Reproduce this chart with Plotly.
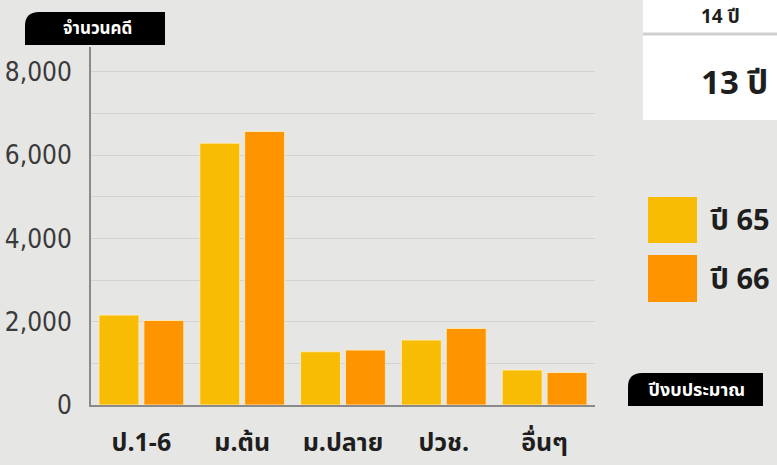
import plotly.graph_objects as go

categories = ["ป.1-6", "ม.ต้น", "ม.ปลาย", "ปวช.", "อื่นๆ"]
series_names = ["ปี 65", "ปี 66"]
values_65 = [2160, 6290, 1280, 1560, 840]
values_66 = [2030, 6570, 1320, 1840, 780]
y_ticks = [0, 2000, 4000, 6000, 8000]
y_tick_labels = ["0", "2,000", "4,000", "6,000", "8,000"]
colors = ["#F8BC04", "#FE9400"]

W, H = 777, 465
L, R, T, B = 91, 182, 47, 60
PW, PH = W - L - R, H - T - B

def px(x):
    return (x - L) / PW

def py(y):
    return (H - B - y) / PH

thai = "Noto Sans Thai, Loma, Garuda, Tlwg Typo, Noto Sans, sans-serif"
narrow = "DejaVu Sans Condensed, Liberation Sans Narrow, Roboto Condensed, Roboto, sans-serif"

fig = go.Figure()
for name, vals, col in zip(series_names, [values_65, values_66], colors):
    fig.add_trace(go.Bar(
        x=categories, y=vals, name=name,
        marker=dict(color=col, line=dict(color="rgba(255,236,190,0.9)", width=1)),
        showlegend=False,
    ))

shapes = []
annotations = []

def rounded_box(x0, y0, x1, y1, r, color):
    path = (f"M {px(x0)},{py(y1)} L {px(x0)},{py(y0 + r)} "
            f"Q {px(x0)},{py(y0)} {px(x0 + r)},{py(y0)} "
            f"L {px(x1)},{py(y0)} L {px(x1)},{py(y1)} Z")
    return dict(type="path", xref="paper", yref="paper", path=path,
                fillcolor=color, line=dict(width=0), layer="above")

def label(x, y, text, size, color, xanchor="center", family=thai):
    return dict(x=px(x), y=py(y), xref="paper", yref="paper", text=text,
                showarrow=False, xanchor=xanchor, yanchor="middle",
                font=dict(family=family, size=size, color=color))

# y-axis title box
shapes.append(rounded_box(25, 12, 165, 45, 14, "#000000"))
annotations.append(label(97, 29, "<b>จำนวนคดี</b>", 17, "white"))
# x-axis title box
shapes.append(rounded_box(628, 373, 763, 406, 14, "#000000"))
annotations.append(label(696, 390, "<b>ปีงบประมาณ</b>", 18, "white"))

# legend squares
leg_y = [(197, 243), (255, 302)]
for (y0, y1), col, name in zip(leg_y, colors, series_names):
    shapes.append(dict(type="rect", xref="paper", yref="paper",
                       x0=px(648), x1=px(697), y0=py(y1), y1=py(y0),
                       fillcolor=col, line=dict(width=0)))
    annotations.append(label(708, (y0 + y1) / 2 + 1, f"<b>{name}</b>", 29,
                             "#1e1e1e", xanchor="left"))

# top-right white info box
shapes.append(dict(type="rect", xref="paper", yref="paper",
                   x0=px(643), x1=px(790), y0=py(120), y1=py(-10),
                   fillcolor="white", line=dict(width=0), layer="below"))
shapes.append(dict(type="line", xref="paper", yref="paper",
                   x0=px(643), x1=px(790), y0=py(34), y1=py(34),
                   line=dict(color="#cfcfcf", width=3)))
annotations.append(label(699, 84, "<b>13 ปี</b>", 33, "#1e1e1e", xanchor="left"))
annotations.append(label(699, 18, "<b>14 ปี</b>", 19, "#1e1e1e", xanchor="left"))

fig.update_layout(
    width=W, height=H,
    margin=dict(l=L, r=R, t=T, b=B, autoexpand=False),
    paper_bgcolor="#e6e6e4",
    plot_bgcolor="rgba(0,0,0,0)",
    barmode="group",
    bargap=0.11,
    bargroupgap=0.11,
    shapes=shapes,
    annotations=annotations,
    xaxis=dict(
        range=[-0.5, 4.5], automargin=False,
        showline=True, linecolor="#8a8a8a", linewidth=2,
        showgrid=False, ticks="", ticklabelstandoff=14,
        tickfont=dict(family=thai, size=25, color="#1e1e1e", weight="bold"),
    ),
    yaxis=dict(
        range=[0, 8600], automargin=False,
        tickvals=y_ticks, ticktext=y_tick_labels,
        showline=True, linecolor="#8a8a8a", linewidth=2,
        showgrid=True, gridcolor="#d2d2d2", gridwidth=1,
        minor=dict(dtick=1000, showgrid=True, gridcolor="#d2d2d2", gridwidth=1),
        zeroline=False, ticks="", ticklabelstandoff=12,
        tickfont=dict(family=narrow, size=26, color="#3a3a3a"),
    ),
)

fig.write_html("out.html", config={"displayModeBar": False},
               post_script="document.body.style.margin='0';")
